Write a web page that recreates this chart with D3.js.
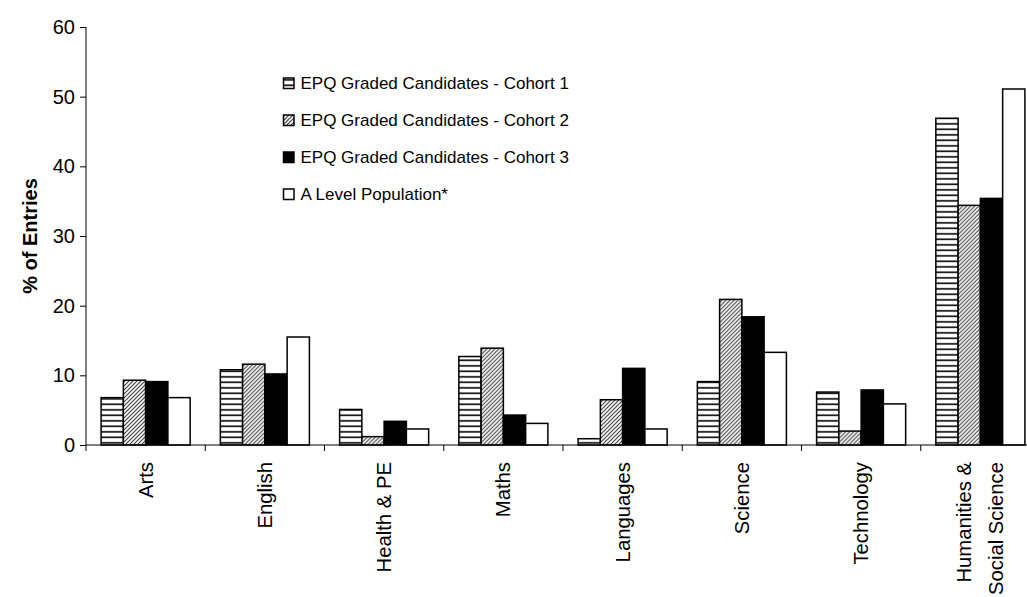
<!DOCTYPE html>
<html><head><meta charset="utf-8">
<script src="https://cdn.jsdelivr.net/npm/d3@7"></script>
<style>body{margin:0;background:#fff;} svg{display:block;font-family:"Liberation Sans",Arial,sans-serif;}</style>
</head><body>
<svg id="chart" width="1027" height="597"></svg>
<script>
const categories = ["Arts","English","Health & PE","Maths","Languages","Science","Technology","Humanities & Social Science"];
const categoryLines = [["Arts"],["English"],["Health & PE"],["Maths"],["Languages"],["Science"],["Technology"],["Humanities &","Social Science"]];
const seriesNames = ["EPQ Graded Candidates - Cohort 1","EPQ Graded Candidates - Cohort 2","EPQ Graded Candidates - Cohort 3","A Level Population*"];
const cohort1 = [6.8, 10.8, 5.1, 12.7, 0.9, 9.1, 7.6, 46.9];
const cohort2 = [9.3, 11.6, 1.2, 13.9, 6.5, 20.9, 2.0, 34.4];
const cohort3 = [9.1, 10.2, 3.4, 4.3, 11.0, 18.4, 7.9, 35.4];
const aLevel  = [6.8, 15.5, 2.3, 3.1, 2.3, 13.3, 5.9, 51.1];
const yTicks = [0,10,20,30,40,50,60];
const seriesValues = [cohort1, cohort2, cohort3, aLevel];

(function(){
const svg = d3.select("#chart");
const defs = svg.append("defs");
const p1 = defs.append("pattern").attr("id","hstripe").attr("patternUnits","userSpaceOnUse").attr("width",8).attr("height",5.5);
p1.append("rect").attr("width",8).attr("height",5.5).attr("fill","#fff");
p1.append("rect").attr("y",2).attr("width",8).attr("height",1.7).attr("fill","#111");
const p2 = defs.append("pattern").attr("id","dhatch").attr("patternUnits","userSpaceOnUse").attr("width",4).attr("height",4);
p2.append("rect").attr("width",4).attr("height",4).attr("fill","#fff");
p2.append("path").attr("d","M-1,1 L1,-1 M0,4 L4,0 M3,5 L5,3").attr("stroke","#444").attr("stroke-width",1.2);

const fills = ["url(#hstripe)","url(#dhatch)","#000","#fff"];

const mLeft = 86, mTop = 27, mBottom = 445, mRight = 1040;
const y = d3.scaleLinear().domain([0,60]).range([mBottom, mTop]);
const x0 = d3.scaleBand().domain(categories).range([mLeft, mRight]).padding(0);
const pad = 15.1;
const x1 = d3.scaleBand().domain(d3.range(4)).range([pad, x0.bandwidth()-pad]).padding(0);

const groups = svg.append("g").selectAll("g").data(categories).join("g")
  .attr("transform", d => `translate(${x0(d)},0)`);
groups.selectAll("rect").data((d,i) => seriesValues.map((s,k) => ({k, v: s[i]}))).join("rect")
  .attr("x", d => x1(d.k)).attr("width", x1.bandwidth())
  .attr("y", d => y(d.v)).attr("height", d => y(0) - y(d.v))
  .attr("fill", d => fills[d.k]).attr("stroke","#000").attr("stroke-width",1.5);

const yAxis = svg.append("g").attr("transform",`translate(${mLeft},0)`)
  .call(d3.axisLeft(y).tickValues(yTicks).tickSize(6).tickPadding(5));
yAxis.select(".domain").attr("stroke","#000").attr("d",`M0,${mTop}V${mBottom}`);
yAxis.selectAll(".tick line").attr("stroke","#000");
yAxis.selectAll("text").attr("font-size",20).attr("fill","#000").attr("font-family","Liberation Sans, Arial, sans-serif");

const xAxis = svg.append("g").attr("transform",`translate(0,${mBottom})`);
xAxis.append("line").attr("x1",mLeft).attr("x2",mRight).attr("stroke","#000");
const bounds = categories.map(c => x0(c)).concat([mRight]);
xAxis.selectAll("line.t").data(bounds).join("line").attr("class","t")
  .attr("x1",d=>d).attr("x2",d=>d).attr("y1",0).attr("y2",6).attr("stroke","#000");
categories.forEach((c,i) => {
  const cx = x0(c) + x0.bandwidth()/2;
  const lines = categoryLines[i];
  const lh = 32;
  const t = xAxis.append("text").attr("transform",`translate(${cx},17) rotate(-90)`)
    .attr("text-anchor","end").attr("font-size",20.3).attr("fill","#000");
  lines.forEach((ln,j) => {
    t.append("tspan").attr("x",0).attr("y", (j - (lines.length-1)/2)*lh + 7).text(ln);
  });
});

svg.append("text").attr("transform",`translate(30,${(mTop+mBottom)/2}) rotate(-90)`)
  .attr("text-anchor","middle").attr("font-size",20).attr("font-weight","bold").attr("dy","0.35em").text("% of Entries");

const lg = svg.append("g");
seriesNames.forEach((n,i) => {
  const cy = 83 + i*37;
  lg.append("rect").attr("x",283.5).attr("y",cy-5).attr("width",10.5).attr("height",10.5)
    .attr("fill", fills[i]).attr("stroke","#000").attr("stroke-width",1.5);
  lg.append("text").attr("x",300.5).attr("y",cy).attr("dy","0.35em").attr("font-size",17).text(n);
});
})();
</script>
</body></html>
